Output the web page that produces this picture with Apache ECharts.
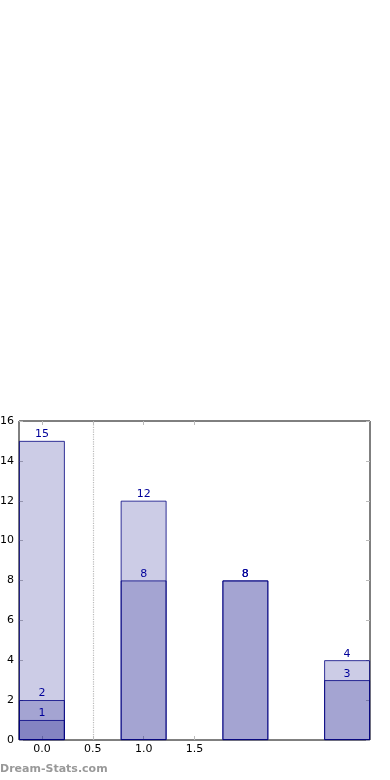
<!DOCTYPE html>
<html><head><meta charset="utf-8">
<script src="https://cdn.jsdelivr.net/npm/echarts@6/dist/echarts.min.js"></script>
<style>html,body{margin:0;padding:0;background:#fff}#c{width:390px;height:780px}</style>
</head><body><div id="c"></div>
<script>
const positions = [0, 1, 2, 3];
const seriesA = [15, 12, 8, 4];
const seriesB = [2, 8, 8, 3];
const seriesC = [1, null, null, null];
const yTicks = [0, 2, 4, 6, 8, 10, 12, 14, 16];
const xTickLabels = [0, 0.5, 1.0, 1.5];
const refLineX = 0.5;

const X_MIN = -0.225, X_MAX = 3.225, BAR_UNITS = 0.45;
const grid = {left: 19, right: 20, top: 421, bottom: 40};
const plotW = 390 - grid.left - grid.right;
const barPx = plotW * BAR_UNITS / (X_MAX - X_MIN);
const font = 'DejaVu Sans';

function mk(vals, name, z) {
  return {
    type: 'bar', name: name, xAxisIndex: 0, yAxisIndex: 0,
    barWidth: barPx, barGap: '-100%', z: z,
    data: positions.map((p, i) => vals[i] == null ? null : [p, vals[i]]),
    itemStyle: {color: 'rgba(0,0,128,0.2)', borderColor: '#000080', borderWidth: 0.8},
    label: {show: true, position: 'top', distance: 1, color: '#00009a', fontSize: 11, fontFamily: font,
      formatter: p => String(p.value[1])},
    emphasis: {disabled: true}, animation: false
  };
}

const s1 = mk(seriesA, 'A', 2);
s1.markLine = {silent: true, symbol: 'none', label: {show: false},
  lineStyle: {type: 'dotted', color: '#bbbbbb', width: 1.2},
  data: [{xAxis: refLineX}]};

const axLine = {show: false, onZero: false};
const chart = echarts.init(document.getElementById('c'));
chart.setOption({
  animation: false,
  grid: Object.assign({show: true, borderColor: '#000', borderWidth: 1, backgroundColor: 'transparent',
    containLabel: false, outerBoundsMode: 'none'}, grid),
  xAxis: [{
    type: 'value', min: X_MIN, max: X_MAX, position: 'bottom',
    axisLine: axLine, splitLine: {show: false},
    axisTick: {show: true, inside: true, length: 4, lineStyle: {color: '#bbb'}, customValues: xTickLabels},
    axisLabel: {color: '#000', fontSize: 11, fontFamily: font, margin: 4, customValues: xTickLabels,
      formatter: v => v.toFixed(1)}
  }, {
    type: 'value', min: X_MIN, max: X_MAX, position: 'top',
    axisLine: axLine, splitLine: {show: false},
    axisTick: {show: true, inside: true, length: 4, lineStyle: {color: '#bbb'}, customValues: xTickLabels},
    axisLabel: {show: false}
  }],
  yAxis: [{
    type: 'value', min: 0, max: 16, interval: 2, position: 'left',
    axisLine: axLine, splitLine: {show: false},
    axisTick: {show: true, inside: true, length: 4, lineStyle: {color: '#bbb'}},
    axisLabel: {color: '#000', fontSize: 11, fontFamily: font, margin: 5}
  }, {
    type: 'value', min: 0, max: 16, interval: 2, position: 'right',
    axisLine: axLine, splitLine: {show: false},
    axisTick: {show: true, inside: true, length: 4, lineStyle: {color: '#bbb'}},
    axisLabel: {show: false}
  }],
  series: [s1, mk(seriesB, 'B', 3), mk(seriesC, 'C', 4)],
  graphic: [{
    type: 'text', left: 0, top: 764,
    style: {text: 'Dream-Stats.com', fill: '#999', font: 'bold 11px "DejaVu Sans"'}
  }]
});
</script></body></html>
